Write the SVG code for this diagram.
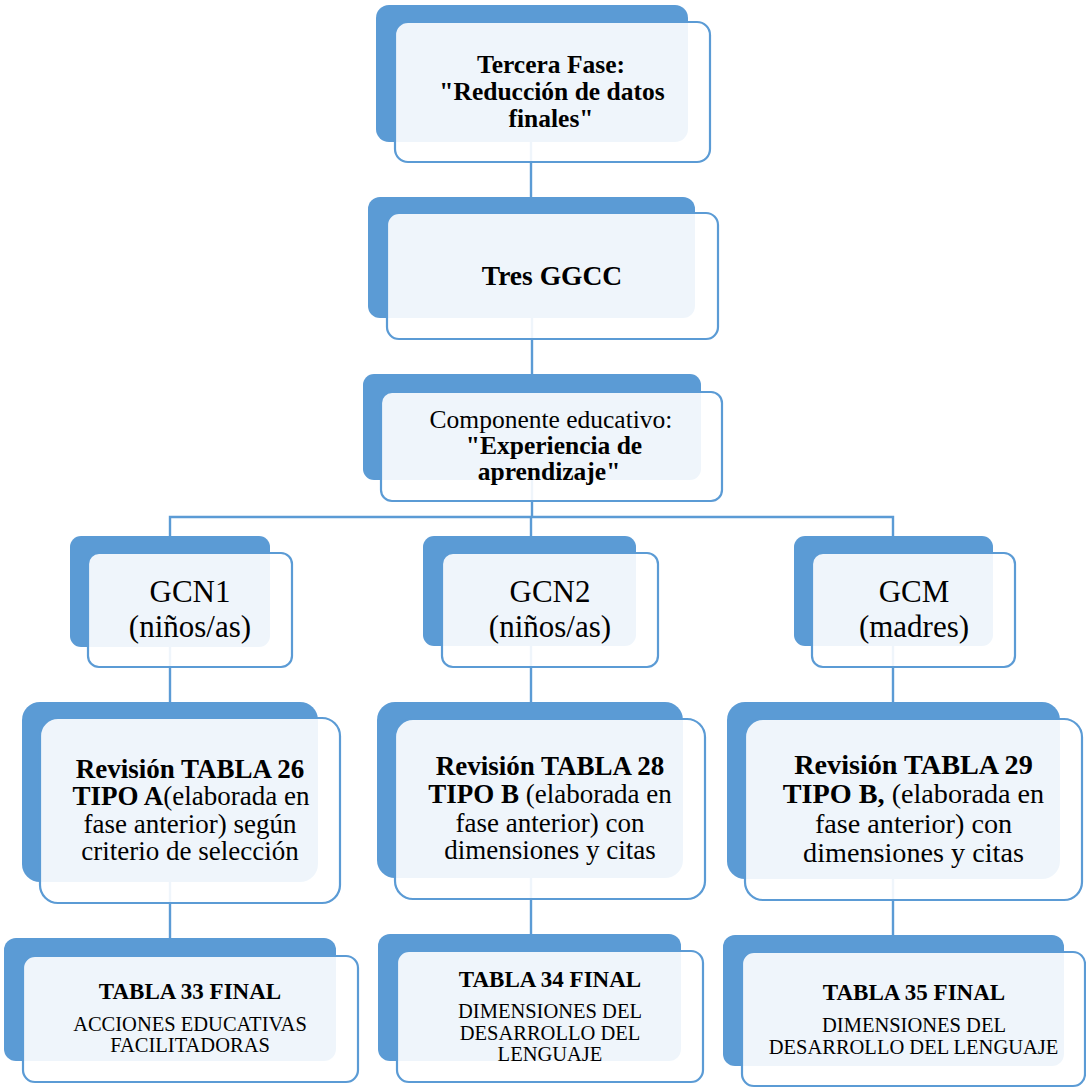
<svg xmlns="http://www.w3.org/2000/svg" width="1086" height="1088" viewBox="0 0 1086 1088">
  <style>
    .back { fill: #5B9BD5; }
    .front { fill: #FFFFFF; fill-opacity: 0.9; stroke: #5B9BD5; stroke-width: 2.2; }
    .link { stroke: #5B9BD5; stroke-width: 2.4; fill: none; }
    text { font-family: "Liberation Serif", "Times New Roman", serif; fill: #000000; text-anchor: middle; }
    .b { font-weight: bold; }
  </style>
  <rect width="1086" height="1088" fill="#FFFFFF"/>

  <!-- connectors sit beneath the node cards -->
  <g id="connectors">
    <line class="link" x1="531" y1="140" x2="531" y2="199"/>
    <line class="link" x1="532" y1="316" x2="532" y2="376"/>
    <line class="link" x1="532" y1="478" x2="532" y2="517"/>
    <polyline class="link" points="170,538 170,517 893,517 893,538"/>
    <line class="link" x1="531" y1="517" x2="531" y2="538"/>
    <line class="link" x1="170" y1="645" x2="170" y2="704"/>
    <line class="link" x1="531" y1="644" x2="531" y2="704"/>
    <line class="link" x1="893" y1="644" x2="893" y2="704"/>
    <line class="link" x1="170" y1="878" x2="170" y2="940"/>
    <line class="link" x1="531" y1="876" x2="531" y2="936"/>
    <line class="link" x1="893" y1="877" x2="893" y2="937"/>
  </g>

  <g id="tercera-fase">
    <rect class="back" x="376" y="5" width="312" height="137" rx="13"/>
    <rect class="front" x="395" y="22" width="315" height="140" rx="13"/>
    <text class="b" font-size="25.5"><tspan x="551" y="73">Tercera Fase:</tspan><tspan x="552" y="100">"Reducción de datos</tspan><tspan x="551" y="127">finales"</tspan></text>
  </g>

  <g id="tres-ggcc">
    <rect class="back" x="368" y="197" width="327" height="121" rx="12"/>
    <rect class="front" x="387" y="213" width="331" height="126" rx="12"/>
    <text class="b" font-size="27.5" x="552" y="285">Tres GGCC</text>
  </g>

  <g id="componente-educativo">
    <rect class="back" x="363" y="374" width="338" height="106" rx="11"/>
    <rect class="front" x="381" y="392" width="341" height="109" rx="11"/>
    <text font-size="25.5"><tspan x="551" y="428">Componente educativo:</tspan><tspan class="b" x="554" y="454">"Experiencia de</tspan><tspan class="b" x="549" y="480">aprendizaje"</tspan></text>
  </g>

  <g id="gcn1">
    <rect class="back" x="70" y="536" width="200" height="111" rx="11"/>
    <rect class="front" x="88" y="553" width="204" height="114" rx="11"/>
    <text font-size="31"><tspan x="190" y="602">GCN1</tspan><tspan x="190" y="637">(niños/as)</tspan></text>
  </g>

  <g id="gcn2">
    <rect class="back" x="423" y="536" width="213" height="110" rx="11"/>
    <rect class="front" x="442" y="553" width="216" height="114" rx="11"/>
    <text font-size="31"><tspan x="550" y="602">GCN2</tspan><tspan x="550" y="637">(niños/as)</tspan></text>
  </g>

  <g id="gcm">
    <rect class="back" x="794" y="536" width="199" height="110" rx="11"/>
    <rect class="front" x="812" y="553" width="203" height="114" rx="11"/>
    <text font-size="31"><tspan x="914" y="602">GCM</tspan><tspan x="914" y="637">(madres)</tspan></text>
  </g>

  <g id="revision-tabla-26">
    <rect class="back" x="22" y="702" width="296" height="180" rx="18"/>
    <rect class="front" x="40" y="718" width="300" height="185" rx="18"/>
    <text font-size="27"><tspan class="b" x="190" y="778">Revisión TABLA 26</tspan><tspan x="191" y="805"><tspan class="b">TIPO A</tspan>(elaborada en</tspan><tspan x="190" y="833">fase anterior) según</tspan><tspan x="190" y="860">criterio de selección</tspan></text>
  </g>

  <g id="revision-tabla-28">
    <rect class="back" x="377" y="702" width="306" height="176" rx="18"/>
    <rect class="front" x="395" y="719" width="310" height="180" rx="18"/>
    <text font-size="27"><tspan class="b" x="550" y="775">Revisión TABLA 28</tspan><tspan x="550" y="803"><tspan class="b">TIPO B</tspan> (elaborada en</tspan><tspan x="550" y="832">fase anterior) con</tspan><tspan x="550" y="859">dimensiones y citas</tspan></text>
  </g>

  <g id="revision-tabla-29">
    <rect class="back" x="727" y="702" width="333" height="177" rx="18"/>
    <rect class="front" x="745" y="719" width="337" height="181" rx="18"/>
    <text font-size="28.2"><tspan class="b" x="913.5" y="774">Revisión TABLA 29</tspan><tspan x="913.5" y="803"><tspan class="b">TIPO B,</tspan> (elaborada en</tspan><tspan x="913.5" y="833">fase anterior) con</tspan><tspan x="913.5" y="862">dimensiones y citas</tspan></text>
  </g>

  <g id="tabla-33-final">
    <rect class="back" x="4" y="938" width="332" height="123" rx="12"/>
    <rect class="front" x="23" y="956" width="335" height="126" rx="12"/>
    <text class="b" font-size="23" x="190" y="999">TABLA 33 FINAL</text>
    <text font-size="20.5"><tspan x="190" y="1031">ACCIONES EDUCATIVAS</tspan><tspan x="190" y="1052">FACILITADORAS</tspan></text>
  </g>

  <g id="tabla-34-final">
    <rect class="back" x="378" y="934" width="303" height="127" rx="12"/>
    <rect class="front" x="397" y="951" width="306" height="131" rx="12"/>
    <text class="b" font-size="23" x="550" y="987">TABLA 34 FINAL</text>
    <text font-size="20.5"><tspan x="550" y="1018">DIMENSIONES DEL</tspan><tspan x="550" y="1040">DESARROLLO DEL</tspan><tspan x="550" y="1061">LENGUAJE</tspan></text>
  </g>

  <g id="tabla-35-final">
    <rect class="back" x="723" y="935" width="341" height="131" rx="12"/>
    <rect class="front" x="742" y="952" width="343" height="134" rx="12"/>
    <text class="b" font-size="23" x="914" y="1000">TABLA 35 FINAL</text>
    <text font-size="20.5"><tspan x="914" y="1032">DIMENSIONES DEL</tspan><tspan x="913.5" y="1054">DESARROLLO DEL LENGUAJE</tspan></text>
  </g>
</svg>
